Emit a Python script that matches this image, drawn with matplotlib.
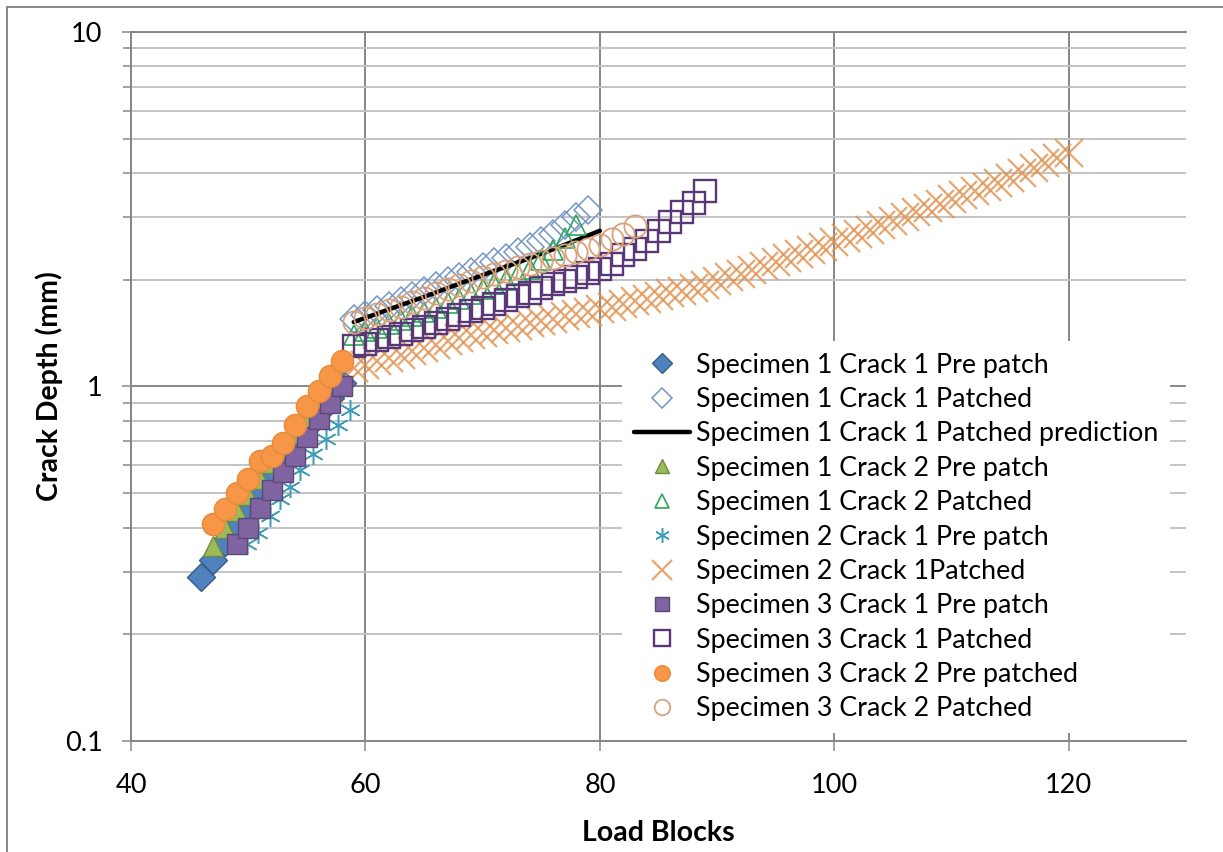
import matplotlib
matplotlib.use("Agg")
import matplotlib.pyplot as plt
from matplotlib.ticker import FixedLocator, LogLocator, NullFormatter, FixedFormatter
from matplotlib.lines import Line2D

plt.rcParams['font.family'] = ['Lato', 'DejaVu Sans']

# ---- data ----
s1c1_pre_x = [46, 47, 48, 49, 50, 51, 52, 53, 54, 55, 56, 57, 58]
s1c1_pre_y = [0.29, 0.325, 0.365, 0.41, 0.46, 0.51, 0.57, 0.63, 0.70, 0.77, 0.85, 0.93, 1.02]

s1c1_pat_x = list(range(59, 80))
s1c1_pat_y = [1.55, 1.59, 1.64, 1.69, 1.74, 1.80, 1.86, 1.92, 1.98, 2.04, 2.10,
              2.17, 2.24, 2.31, 2.39, 2.47, 2.57, 2.70, 2.85, 3.00, 3.15]

s1c1_pred_x = [59, 62, 65, 68, 71, 74, 77, 80]
s1c1_pred_y = [1.52, 1.65, 1.79, 1.95, 2.12, 2.30, 2.51, 2.75]

s1c2_pre_x = [47, 48, 49, 50, 51, 52, 53, 54, 55, 56, 57]
s1c2_pre_y = [0.355, 0.40, 0.445, 0.495, 0.55, 0.61, 0.67, 0.74, 0.81, 0.89, 0.97]

s1c2_pat_x = list(range(59, 79))
s1c2_pat_y = [1.40, 1.43, 1.46, 1.50, 1.54, 1.58, 1.62, 1.67, 1.72, 1.77,
              1.82, 1.88, 1.94, 2.00, 2.07, 2.15, 2.27, 2.42, 2.62, 2.85]

s2c1_pre_x = [49.9, 50.8, 51.9, 52.7, 53.6, 54.4, 55.5, 56.6, 57.7, 58.7]
s2c1_pre_y = [0.36, 0.385, 0.43, 0.48, 0.52, 0.58, 0.645, 0.71, 0.78, 0.86]

s2c1_pat_x = list(range(59, 121))
s2c1_pat_y = [1.13, 1.15, 1.18, 1.20, 1.23, 1.26, 1.28, 1.31, 1.34, 1.37,
              1.40, 1.42, 1.44, 1.46, 1.48, 1.51, 1.53, 1.55, 1.58, 1.60,
              1.62, 1.65, 1.68, 1.71, 1.74, 1.77, 1.80, 1.83, 1.86, 1.89,
              1.93, 1.98, 2.03, 2.08, 2.13, 2.19, 2.24, 2.30, 2.36, 2.42,
              2.48, 2.55, 2.62, 2.69, 2.77, 2.85, 2.93, 3.01, 3.10, 3.18,
              3.27, 3.37, 3.46, 3.56, 3.66, 3.76, 3.88, 4.00, 4.13, 4.26,
              4.40, 4.55]

s3c1_pre_x = [49, 50, 51, 52, 53, 54, 55, 56, 57, 58]
s3c1_pre_y = [0.36, 0.40, 0.455, 0.51, 0.575, 0.635, 0.72, 0.81, 0.90, 1.0]

s3c1_pat_x = list(range(59, 90))
s3c1_pat_y = [1.30, 1.32, 1.35, 1.38, 1.41, 1.44, 1.47, 1.51, 1.55, 1.59,
              1.63, 1.67, 1.71, 1.75, 1.80, 1.84, 1.89, 1.94, 1.99, 2.04,
              2.09, 2.14, 2.22, 2.35, 2.45, 2.58, 2.75, 2.92, 3.10, 3.30, 3.55]

s3c2_pre_x = [47, 48, 49, 50, 51, 52, 53, 54, 55, 56, 57, 58]
s3c2_pre_y = [0.41, 0.45, 0.50, 0.55, 0.615, 0.635, 0.695, 0.78, 0.88, 0.97, 1.07, 1.18]

s3c2_pat_x = list(range(59, 84))
s3c2_pat_y = [1.52, 1.56, 1.60, 1.64, 1.68, 1.73, 1.78, 1.83, 1.88, 1.93,
              1.99, 2.04, 2.08, 2.12, 2.17, 2.21, 2.26, 2.30, 2.35, 2.40,
              2.45, 2.51, 2.60, 2.70, 2.83]

x_ticks = [40, 60, 80, 100, 120]
y_ticks = [0.1, 1, 10]
y_tick_labels = ['0.1', '1', '10']

# ---- figure ----
W, H = 1223, 852
fig = plt.figure(figsize=(W / 100, H / 100), dpi=100)
ax = fig.add_axes([131 / W, 1 - 741 / H, 1055 / W, 709 / H])

ax.plot(s1c1_pre_x, s1c1_pre_y, ls='none', marker='D', ms=14, mfc='#4f81bd', mec='#385d8a',
        mew=1, label='Specimen 1 Crack 1 Pre patch')
ax.plot(s1c1_pat_x, s1c1_pat_y, ls='none', marker='D', ms=14, mfc='none', mec='#7396c9',
        mew=1.1, label='Specimen 1 Crack 1 Patched')
ax.plot(s1c1_pred_x, s1c1_pred_y, color='black', lw=3.2, solid_capstyle='round',
        label='Specimen 1 Crack 1 Patched prediction')
ax.plot(s1c2_pre_x, s1c2_pre_y, ls='none', marker='^', ms=15, mfc='#9bbb59', mec='#71893f',
        mew=1, label='Specimen 1 Crack 2 Pre patch')
ax.plot(s1c2_pat_x, s1c2_pat_y, ls='none', marker='^', ms=15, mfc='none', mec='#2ea55a',
        mew=1.2, label='Specimen 1 Crack 2 Patched')
ax.plot(s2c1_pre_x, s2c1_pre_y, ls='none', marker=(6, 2, 0), ms=15, mec='#3f9db8',
        mew=1.1, label='Specimen 2 Crack 1 Pre patch')
ax.plot(s2c1_pat_x, s2c1_pat_y, ls='none', marker='x', ms=20, mec='#e0914f', alpha=0.8,
        mew=1.6, label='Specimen 2 Crack 1Patched')
ax.plot(s3c1_pre_x, s3c1_pre_y, ls='none', marker='s', ms=14, mfc='#8064a2', mec='#5c4776',
        mew=1, label='Specimen 3 Crack 1 Pre patch')
ax.plot(s3c1_pat_x, s3c1_pat_y, ls='none', marker='s', ms=16, mfc='none', mec='#5a3878',
        mew=1.7, label='Specimen 3 Crack 1 Patched')
ax.plot(s3c2_pre_x, s3c2_pre_y, ls='none', marker='o', ms=16, mfc='#f79646', mec='#e58a3c',
        mew=1, label='Specimen 3 Crack 2 Pre patched')
ax.plot(s3c2_pat_x, s3c2_pat_y, ls='none', marker='o', ms=16, mfc='none', mec='#d9a27a',
        mew=1.3, label='Specimen 3 Crack 2 Patched')

ax.set_yscale('log')
ax.set_xlim(40, 130)
ax.set_ylim(0.1, 10)

ax.xaxis.set_major_locator(FixedLocator(x_ticks))
ax.set_xticklabels([str(v) for v in x_ticks])
ax.yaxis.set_major_locator(FixedLocator(y_ticks))
ax.yaxis.set_major_formatter(FixedFormatter(y_tick_labels))
ax.yaxis.set_minor_locator(LogLocator(base=10, subs=range(2, 10)))
ax.yaxis.set_minor_formatter(NullFormatter())
ax.xaxis.set_minor_locator(FixedLocator([]))

gc = '#878787'
ax.grid(which='major', axis='both', color=gc, lw=1.4)
ax.grid(which='minor', axis='y', color='#c3c3c3', lw=1.4)
ax.set_axisbelow(True)

for side in ['left', 'bottom', 'top']:
    ax.spines[side].set_color(gc)
    ax.spines[side].set_linewidth(1.4)
ax.spines['right'].set_visible(False)

ax.tick_params(axis='x', which='major', direction='out', length=7, width=1.1, color=gc,
               labelsize=19.5, pad=16)
ax.tick_params(axis='y', which='major', direction='out', length=6.5, width=1.1, color=gc,
               labelsize=19.5, pad=14)
ax.tick_params(axis='y', which='minor', direction='out', length=5.5, width=1.1, color=gc)

ax.set_xlabel('Load Blocks', fontsize=20.5, fontweight='bold')
ax.set_ylabel('Crack Depth (mm)', fontsize=20.5, fontweight='bold')
ax.xaxis.set_label_coords(0.4995, -0.111)
ax.yaxis.set_label_coords(-0.064, 0.5)

leg = ax.legend(loc='center left', bbox_to_anchor=(622 / W, 1 - 537 / H),
                bbox_transform=fig.transFigure, fontsize=19.3, frameon=True,
                fancybox=False, edgecolor='none', facecolor='white', framealpha=1,
                markerscale=0.7, handlelength=2.1, handletextpad=0.2,
                labelspacing=0.35, borderpad=0.45, borderaxespad=0)

# chart-area border
fig.add_artist(Line2D([7 / W, 1], [1 - 7 / H, 1 - 7 / H], color=gc, lw=1.4))
fig.add_artist(Line2D([7 / W, 7 / W], [0, 1 - 7 / H], color=gc, lw=1.4))

fig.savefig('out.png', dpi=100)
